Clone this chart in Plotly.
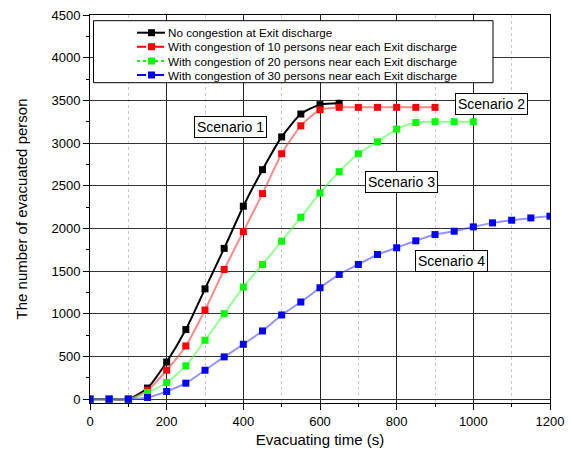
import plotly.graph_objects as go

time_s1 = [0, 50, 100, 150, 200, 250, 300, 350, 400, 450, 500, 550, 600, 650]
evac_s1 = [0, 0, 0, 130, 435, 815, 1292, 1766, 2260, 2688, 3072, 3340, 3450, 3466]

time_s2 = [0, 50, 100, 150, 200, 250, 300, 350, 400, 450, 500, 550, 600, 650, 700, 750, 800, 850, 900]
evac_s2 = [0, 0, 0, 105, 339, 623, 1044, 1519, 1963, 2408, 2875, 3202, 3390, 3418, 3418, 3418, 3418, 3418, 3418]

time_s3 = [0, 50, 100, 150, 200, 250, 300, 350, 400, 450, 500, 550, 600, 650, 700, 750, 800, 850, 900, 950, 1000]
evac_s3 = [0, 0, 0, 78, 195, 390, 690, 1001, 1313, 1578, 1850, 2131, 2415, 2665, 2875, 3015, 3163, 3241, 3250, 3250, 3250]

time_s4 = [0, 50, 100, 150, 200, 250, 300, 350, 400, 450, 500, 550, 600, 650, 700, 750, 800,
           850, 900, 950, 1000, 1050, 1100, 1150, 1200]
evac_s4 = [0, 0, 0, 20, 90, 187, 339, 495, 643, 799, 986, 1138, 1305, 1461, 1578, 1695, 1773,
           1855, 1928, 1967, 2018, 2065, 2096, 2123, 2143]

series_names = [
    "No congestion at Exit discharge",
    "With congestion of 10 persons near each Exit discharge",
    "With congestion of 20 persons near each Exit discharge",
    "With congestion of 30 persons near each Exit discharge",
]

scenario_labels = ["Scenario 1", "Scenario 2", "Scenario 3", "Scenario 4"]
scenario_x = [366, 1048, 812, 942]
scenario_y = [3190, 3458, 2547, 1616]

FONT = "Liberation Sans, Arial, sans-serif"

W, H = 571, 451
ML, MR, MT, MB = 90, 21, 15, 48
PW, PH = W - ML - MR, H - MT - MB


def px_x(p):
    return (p - ML) / PW


def px_y(p):
    return (H - MB - p) / PH


fig = go.Figure()
marker_colors = ["#000000", "#ff0000", "#00ff00", "#0000ff"]
line_colors = ["#000000", "rgba(255,60,60,0.6)", "rgba(60,255,60,0.55)", "rgba(60,60,255,0.55)"]
legend_dash = ["solid", "dash", "dot", "dashdot"]
xs = [time_s1, time_s2, time_s3, time_s4]
ys = [evac_s1, evac_s2, evac_s3, evac_s4]
for i in range(4):
    fig.add_trace(go.Scatter(
        x=xs[i], y=ys[i], mode="lines+markers", name=series_names[i],
        line=dict(color=line_colors[i], width=2, shape="spline", smoothing=0.6),
        marker=dict(symbol="square", size=7, color=marker_colors[i]),
        showlegend=False,
    ))

for lab, ax, ay in zip(scenario_labels, scenario_x, scenario_y):
    fig.add_annotation(x=ax, y=ay, text=lab, showarrow=False,
                       font=dict(family=FONT, size=14, color="black"),
                       bgcolor="white", bordercolor="black", borderwidth=1, borderpad=2)

# custom compact legend box
shapes = [dict(type="rect", xref="paper", yref="paper",
               x0=px_x(93.5), x1=px_x(493), y0=px_y(82.7), y1=px_y(20.7),
               line=dict(color="black", width=1), fillcolor="white", layer="above")]
row_y = [32.7, 46.7, 61, 75]
for i in range(4):
    yp = px_y(row_y[i])
    shapes.append(dict(type="line", xref="paper", yref="paper",
                       x0=px_x(137), x1=px_x(165), y0=yp, y1=yp,
                       line=dict(color=marker_colors[i], width=2, dash=legend_dash[i]),
                       layer="above"))
    shapes.append(dict(type="rect", xref="paper", yref="paper",
                       x0=px_x(148), x1=px_x(155), y0=px_y(row_y[i] + 3.5), y1=px_y(row_y[i] - 3.5),
                       line=dict(width=0), fillcolor=marker_colors[i], layer="above"))
    fig.add_annotation(xref="paper", yref="paper", x=px_x(166), y=yp,
                       xanchor="left", yanchor="middle", text=series_names[i], showarrow=False,
                       font=dict(family=FONT, size=11.7, color="black"))

fig.update_layout(
    width=W, height=H,
    margin=dict(l=ML, r=MR, t=MT, b=MB),
    paper_bgcolor="white", plot_bgcolor="white",
    font=dict(family=FONT, size=13, color="black"),
    showlegend=False,
    shapes=shapes,
    xaxis=dict(
        range=[0, 1200], tick0=0, dtick=200, automargin=False, ticklabeloverflow="allow",
        showline=True, linecolor="black", linewidth=1, mirror=True,
        ticks="outside", ticklen=6, tickcolor="black",
        showgrid=True, gridcolor="#222222", gridwidth=1,
        zeroline=False,
        minor=dict(dtick=100, ticks="outside", ticklen=3, tickcolor="black",
                   showgrid=True, gridcolor="#c8c8c8", griddash="dot", gridwidth=1),
        title=dict(text="Evacuating time (s)", font=dict(size=15), standoff=6),
        tickfont=dict(size=13),
    ),
    yaxis=dict(
        range=[-45, 4500], tick0=0, dtick=500, automargin=False, ticklabeloverflow="allow",
        showline=True, linecolor="black", linewidth=1, mirror=True,
        ticks="outside", ticklen=6, tickcolor="black",
        showgrid=True, gridcolor="#333333", gridwidth=1,
        zeroline=False,
        minor=dict(dtick=250, ticks="outside", ticklen=3, tickcolor="black", showgrid=False),
        title=dict(text="The number of evacuated person", font=dict(size=15), standoff=20),
        tickfont=dict(size=13),
    ),
)

fig.write_html("out.html", config={"displayModeBar": False},
               post_script="document.body.style.margin='0';")
